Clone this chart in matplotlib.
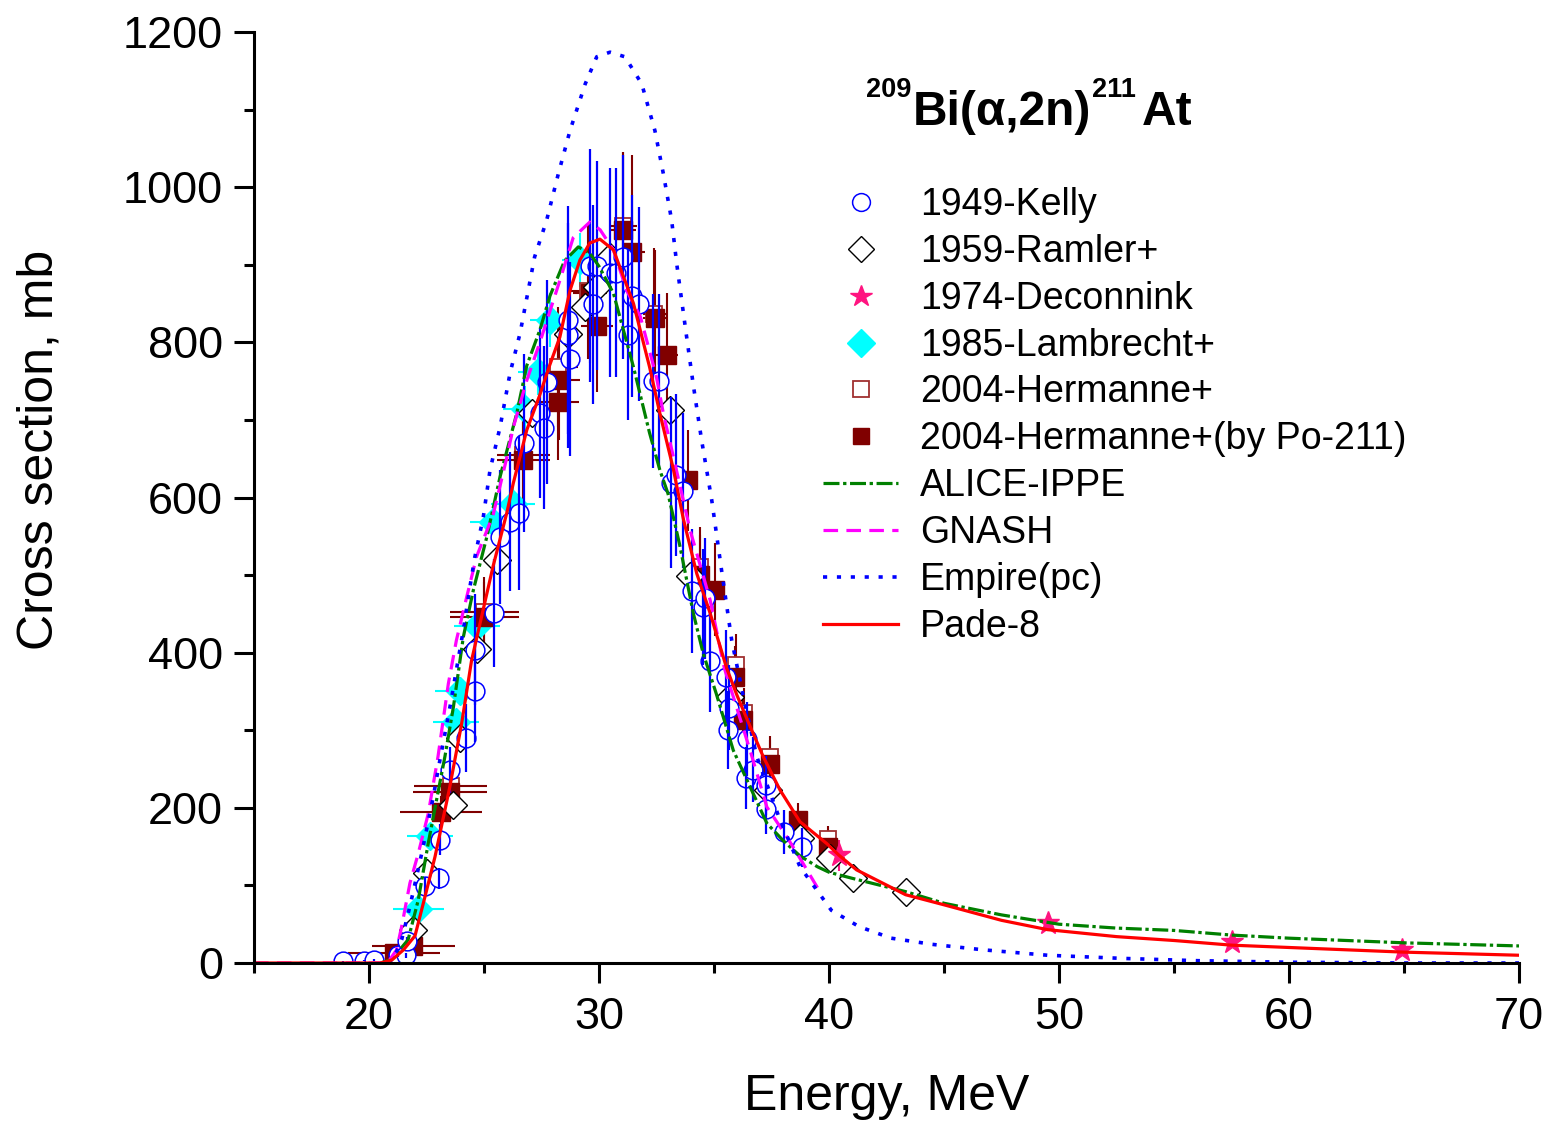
import matplotlib
matplotlib.use('Agg')
import matplotlib.pyplot as plt
from matplotlib.ticker import MultipleLocator

plt.rcParams['font.family'] = ['Liberation Sans', 'DejaVu Sans']
plt.rcParams['lines.scale_dashes'] = False

# ---------------- data ----------------
kelly_E = [18.86, 19.8, 20.2, 21.27, 21.6, 21.64, 22.42, 23.03, 23.1, 23.54, 24.2, 24.62, 24.62,
           25.43, 25.7, 26.13, 26.53, 26.74, 27.43, 27.62, 27.72, 28.64, 28.64, 28.74, 29.6, 29.75,
           29.93, 30.48, 30.74, 31.03, 31.25, 31.42, 31.75, 32.33, 32.62, 33.12, 33.35, 33.64,
           34.03, 34.53, 34.6, 34.83, 35.52, 35.62, 35.65, 36.39, 36.42, 36.71, 37.26, 37.26,
           38.04, 38.84]
kelly_sig = [2, 3, 4, 10, 10, 28, 99, 109, 159, 249, 290, 350, 404, 451, 549, 569, 580, 670,
             709, 690, 749, 809, 829, 779, 899, 849, 899, 890, 890, 910, 810, 860, 849, 750, 750,
             619, 629, 609, 479, 459, 470, 389, 369, 300, 329, 238, 289, 249, 229, 199, 169, 149]
kelly_err = [1, 1, 1, 2, 3, 5, 12, 13, 20, 30, 44, 65, 71, 70, 86, 90, 99, 115, 110, 105, 131,
             145, 147, 125, 150, 128, 135, 135, 135, 132, 110, 130, 125, 112, 112, 110, 105, 100,
             80, 75, 78, 65, 60, 50, 55, 40, 48, 42, 38, 33, 28, 25]

ramler_E = [21.9, 22.5, 23.67, 23.96, 24.7, 25.55, 27.1, 28.67, 29.4, 29.9, 30.48, 33.09, 33.95,
            35.7, 37.36, 38.74, 40.03, 41.03, 43.33]
ramler_sig = [42, 116, 204, 290, 405, 519, 709, 811, 846, 871, 910, 713, 499, 343, 223, 161,
              135, 109, 92]

decon_E = [40.43, 49.52, 57.5, 64.93]
decon_sig = [139, 51, 27, 17]
decon_err = [20, 8, 8, 7]

lamb_E = [22.14, 22.65, 23.8, 23.96, 24.7, 25.4, 26.27, 26.78, 27.36, 27.87, 29.17]
lamb_sig = [70, 164, 310, 350, 435, 568, 592, 714, 762, 829, 906]
lamb_xerr = [1.1, 1.0, 1.0, 1.1, 1.0, 1.0, 0.95, 0.95, 0.9, 0.85, 0.8]
lamb_yerr = [6, 10, 15, 18, 20, 25, 25, 30, 30, 35, 35]

herm_E = [23.55, 25.0, 26.7, 28.2, 29.5, 31.05, 32.4, 34.39, 35.95, 36.3, 37.45, 39.95]
herm_sig = [228, 453, 655, 768, 866, 950, 836, 510, 384, 322, 266, 160]
herm_xerr = [1.6, 1.5, 1.15, 0.9, 0.75, 0.6, 0.5, 0.4, 0.35, 0.35, 0.3, 0.3]
herm_yerr = [23, 45, 65, 77, 87, 95, 85, 52, 40, 33, 27, 16]

po_E = [21.1, 21.93, 23.13, 23.52, 25.01, 26.71, 28.23, 28.27, 29.6, 29.9, 31.03, 31.42, 32.43,
        32.94, 33.87, 34.39, 35.04, 35.9, 36.27, 37.43, 38.67, 39.97]
po_sig = [13, 22, 195, 221, 446, 648, 723, 752, 863, 821, 945, 917, 831, 784, 622, 500, 481,
          369, 313, 257, 184, 150]
po_xerr = [2.0, 1.8, 1.8, 1.6, 1.5, 1.15, 0.9, 0.9, 0.75, 0.7, 0.6, 0.6, 0.5, 0.5, 0.45, 0.4,
           0.4, 0.35, 0.35, 0.3, 0.3, 0.3]
po_yerr = [3, 4, 20, 23, 45, 65, 75, 78, 90, 85, 100, 124, 88, 80, 65, 52, 60, 40, 35, 30, 22, 18]

alice_E = [20.5, 21.0, 21.7, 22.14, 22.58, 23.3, 23.67, 24.1, 24.54, 25.12, 25.7, 26.42, 26.86,
           27.43, 27.87, 28.5, 29.1, 29.6, 30.0, 30.63, 31.5, 32.2, 32.65, 33.0, 33.5, 34.1,
           34.53, 35.1, 35.84, 36.57, 37.3, 38.0, 38.74, 39.5, 40.0, 41.03, 43.33, 45.0, 47.5,
           50.0, 52.5, 55.0, 57.5, 60.0, 62.5, 65.0, 67.5, 70.0]
alice_sig = [0, 5, 30, 81, 155, 266, 330, 420, 481, 549, 627, 708, 770, 816, 860, 905, 923, 915,
             898, 863, 768, 683, 635, 605, 540, 451, 399, 347, 274, 227, 180, 158, 138, 124, 117,
             109, 92, 77, 62, 50, 45, 42, 36, 32, 29, 26, 24, 22]

gnash_E = [15.0, 20.8, 21.2, 21.42, 21.78, 22.14, 22.58, 23.0, 23.45, 23.8, 24.25, 24.68, 25.4,
           25.98, 26.27, 26.86, 27.43, 28.3, 28.88, 29.6, 30.05, 30.63, 31.2, 31.8, 32.5, 32.8,
           33.3, 33.96, 34.83, 35.45, 36.57, 37.3, 38.16, 38.88, 39.5]
gnash_sig = [0, 0, 17, 47, 103, 141, 193, 266, 360, 416, 472, 524, 578, 650, 690, 751, 800, 880,
             935, 955, 945, 919, 867, 833, 755, 708, 644, 558, 468, 380, 274, 201, 163, 128, 97]

emp_E = [20.8, 21.1, 21.42, 21.78, 22.29, 22.8, 23.01, 23.52, 23.8, 24.1, 24.39, 24.6, 24.97,
         25.26, 25.7, 26.13, 26.57, 27.2, 27.72, 28.23, 28.74, 29.4, 29.9, 30.48, 31.13, 31.86,
         32.43, 32.8, 33.16, 33.38, 33.81, 34.1, 34.46, 34.9, 35.33, 35.77, 36.3, 36.86, 37.8,
         38.74, 40.1, 41.3, 42.7, 44.5, 46.7, 49.5, 52.7, 56.0, 60.0, 65.0, 70.0]
emp_sig = [0, 8, 30, 73, 141, 215, 250, 330, 378, 429, 485, 523, 575, 635, 691, 760, 812, 910,
           957, 1017, 1073, 1133, 1168, 1174, 1168, 1133, 1073, 1017, 957, 901, 807, 745, 674,
           597, 506, 416, 340, 266, 190, 124, 68, 47, 32, 24, 17, 10, 6, 3, 1, 0, 0]

pade_E = [15.0, 20.5, 21.0, 21.5, 22.0, 22.43, 22.87, 23.5, 24.03, 24.46, 25.4, 25.99, 26.27,
          26.86, 27.4, 27.85, 28.3, 28.74, 29.17, 29.6, 30.04, 30.63, 31.5, 32.2, 32.65, 33.23,
          33.67, 34.25, 34.83, 35.55, 36.0, 36.57, 37.14, 37.87, 38.74, 39.9, 40.43, 41.2, 43.33,
          45.0, 47.5, 49.5, 52.5, 55.0, 57.5, 60.0, 65.0, 70.0]
pade_sig = [0, 0, 4, 17, 35, 85, 137, 225, 309, 390, 512, 580, 618, 687, 730, 770, 807, 867, 906,
            928, 933, 919, 850, 768, 708, 637, 572, 502, 451, 380, 345, 305, 266, 223, 182, 154,
            139, 120, 88, 75, 55, 43, 34, 29, 23, 20, 14, 10]

labels = ['1949-Kelly', '1959-Ramler+', '1974-Deconnink', '1985-Lambrecht+', '2004-Hermanne+',
          '2004-Hermanne+(by Po-211)', 'ALICE-IPPE', 'GNASH', 'Empire(pc)', 'Pade-8']
title_parts = ['209', 'Bi(α,2n)', '211', 'At']

# ---------------- figure ----------------
W, H = 1550, 1125
fig = plt.figure(figsize=(W / 100, H / 100), dpi=100)
ax = fig.add_axes([254 / W, 1 - 963 / H, (1519 - 254) / W, (963 - 32) / H])

DR = '#800000'
# error bars
ax.errorbar(lamb_E, lamb_sig, xerr=lamb_xerr, yerr=lamb_yerr, fmt='none', ecolor='#00ffff',
            elinewidth=1.5, capsize=0, zorder=2.0)
ax.errorbar(herm_E, herm_sig, xerr=herm_xerr, yerr=herm_yerr, fmt='none', ecolor=DR,
            elinewidth=1.5, capsize=0, zorder=2.1)
ax.errorbar(po_E, po_sig, xerr=po_xerr, yerr=po_yerr, fmt='none', ecolor=DR,
            elinewidth=1.5, capsize=0, zorder=2.2)
ax.errorbar(decon_E, decon_sig, yerr=decon_err, fmt='none', ecolor='#ff1480',
            elinewidth=1.5, capsize=0, zorder=2.3)

# markers
h_lam, = ax.plot(lamb_E, lamb_sig, ls='none', marker='D', ms=14.5, mfc='#00ffff',
                 mec='#00ffff', mew=1, zorder=3.0)
h_herm, = ax.plot(herm_E, herm_sig, ls='none', marker='s', ms=12, mfc='white',
                  mec='#a03030', mew=1.3, zorder=3.1)
h_po, = ax.plot(po_E, po_sig, ls='none', marker='s', ms=12.5, mfc=DR, mec=DR, mew=1,
                zorder=3.2)
h_ram, = ax.plot(ramler_E, ramler_sig, ls='none', marker='D', ms=14, mfc='white',
                 mec='black', mew=1.0, zorder=3.3)
h_dec, = ax.plot(decon_E, decon_sig, ls='none', marker='*', ms=17, mfc='#ff1480',
                 mec='#ff1480', mew=1, zorder=3.4)
h_kel, = ax.plot(kelly_E, kelly_sig, ls='none', marker='o', ms=13.5, mfc='white',
                 mec='#0000ff', mew=1.1, zorder=3.5)
ax.errorbar(kelly_E, kelly_sig, yerr=kelly_err, fmt='none', ecolor='#0000ff',
            elinewidth=1.6, capsize=0, zorder=3.6)

# model curves
h_alice, = ax.plot(alice_E, alice_sig, color='#008000', lw=2.3, dashes=[11.5, 2.6, 2.4, 2.6],
                   zorder=5.0)
h_gnash, = ax.plot(gnash_E, gnash_sig, color='#ff00ff', lw=2.3, dashes=[10.5, 6.0], zorder=5.1)
h_emp, = ax.plot(emp_E, emp_sig, color='#0000ff', lw=2.6, dashes=[3.0, 7.0], zorder=5.2)
h_pade, = ax.plot(pade_E, pade_sig, color='#ff0000', lw=2.3, zorder=5.3)

ax.set_xlim(15, 70)
ax.set_ylim(0, 1200)
ax.xaxis.set_major_locator(MultipleLocator(10))
ax.xaxis.set_minor_locator(MultipleLocator(5))
ax.yaxis.set_major_locator(MultipleLocator(200))
ax.yaxis.set_minor_locator(MultipleLocator(100))

for s in ['top', 'right']:
    ax.spines[s].set_visible(False)
for s in ['left', 'bottom']:
    ax.spines[s].set_linewidth(2.2)
    ax.spines[s].set_zorder(6)
ax.tick_params(which='major', direction='out', length=14.4, width=2.2, labelsize=32.5)
ax.tick_params(axis='x', which='major', pad=10)
ax.tick_params(axis='y', which='major', pad=8)
ax.tick_params(which='minor', direction='out', length=7.2, width=2.2)

ax.set_xlabel('Energy, MeV', fontsize=36)
ax.set_ylabel('Cross section, mb', fontsize=36)
ax.xaxis.set_label_coords(0.5, -0.144)
ax.xaxis.label.set_va('center')
ax.yaxis.set_label_coords(-0.1692, 0.551)
ax.yaxis.label.set_va('center')

# title: 209Bi(a,2n)211At, laid out piece by piece
renderer = fig.canvas.get_renderer()
sup_y = 1 - 97 / H
base_y = 1 - 125 / H
x_px = 866
gaps = [1, 1, 6, 0]
for i, part in enumerate(title_parts):
    is_sup = (i % 2 == 0)
    t = fig.text(x_px / W, sup_y if is_sup else base_y, part,
                 fontsize=19.5 if is_sup else 34.5, fontweight='bold',
                 ha='left', va='baseline')
    bb = t.get_window_extent(renderer)
    x_px = bb.x1 + gaps[i]

handles = [h_kel, h_ram, h_dec, h_lam, h_herm, h_po, h_alice, h_gnash, h_emp, h_pade]
fig.legend(handles, labels, loc='upper left', bbox_to_anchor=(823 / W, 1 - 187 / H),
           frameon=False, fontsize=27, handlelength=2.0, handletextpad=0.58,
           labelspacing=0.29, borderpad=0, borderaxespad=0, markerscale=0.95, numpoints=1)

fig.savefig('out.png', dpi=100)
